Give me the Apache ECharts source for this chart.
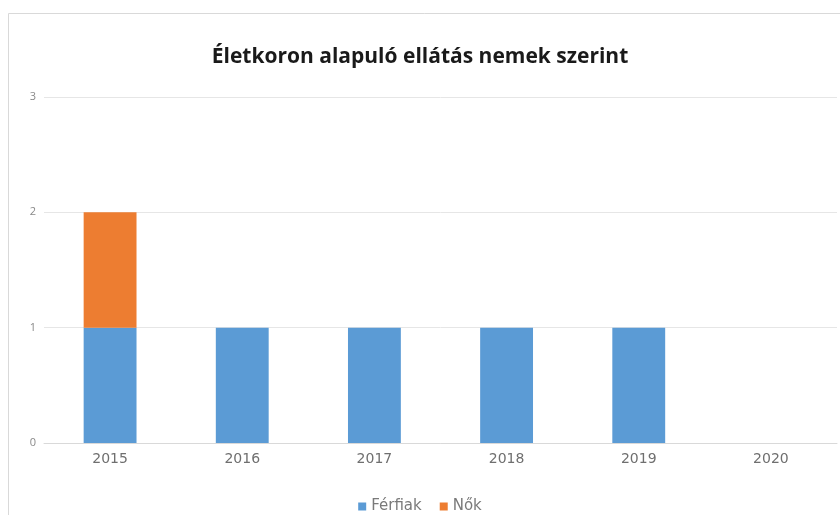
<!DOCTYPE html>
<html><head><meta charset="utf-8">
<script src="https://cdn.jsdelivr.net/npm/echarts@6/dist/echarts.min.js"></script>
<style>html,body{margin:0;padding:0;background:#fff}#c{width:840px;height:515px}</style>
</head><body><div id="c"></div>
<script>
const categories = ['2015','2016','2017','2018','2019','2020'];
const ferfiak = [1,1,1,1,1,null];
const nok = [1,null,null,null,null,null];
const yTicks = [0,1,2,3];

const chart = echarts.init(document.getElementById('c'));
chart.setOption({
  animation:false,
  backgroundColor:'#fff',
  graphic:[{type:'rect',shape:{x:8.5,y:13.5,width:900,height:600},style:{fill:'none',stroke:'#d9d9d9',lineWidth:1},z:-1}],
  title:{text:'Életkoron alapuló ellátás nemek szerint',left:'center',top:42,
    textStyle:{fontFamily:'Open Sans',fontWeight:'bold',fontSize:21,color:'#1a1a1a'}},
  legend:{bottom:-4,left:'center',itemWidth:8,itemHeight:8,itemGap:18,icon:'rect',
    textStyle:{fontFamily:'DejaVu Sans',fontSize:15,color:'#7a7a7a'},data:['Férfiak','Nők']},
  grid:{left:44,right:3,top:97,bottom:72},
  xAxis:{type:'category',data:categories,
    axisLine:{lineStyle:{color:'#d9d9d9'}},axisTick:{show:false},
    axisLabel:{fontFamily:'DejaVu Sans',fontSize:14,color:'#6f6f6f',margin:9}},
  yAxis:{type:'value',min:yTicks[0],max:yTicks[yTicks.length-1],interval:1,
    axisLine:{show:false},axisTick:{show:false},
    splitLine:{lineStyle:{color:'#e6e6e6'}},
    axisLabel:{fontFamily:'Open Sans',fontSize:11,color:'#888',margin:8}},
  series:[
    {name:'Férfiak',type:'bar',stack:'s',data:ferfiak,barWidth:'40%',itemStyle:{color:'#5B9BD5'}},
    {name:'Nők',type:'bar',stack:'s',data:nok,barWidth:'40%',itemStyle:{color:'#ED7D31'}}
  ]
});
</script></body></html>
